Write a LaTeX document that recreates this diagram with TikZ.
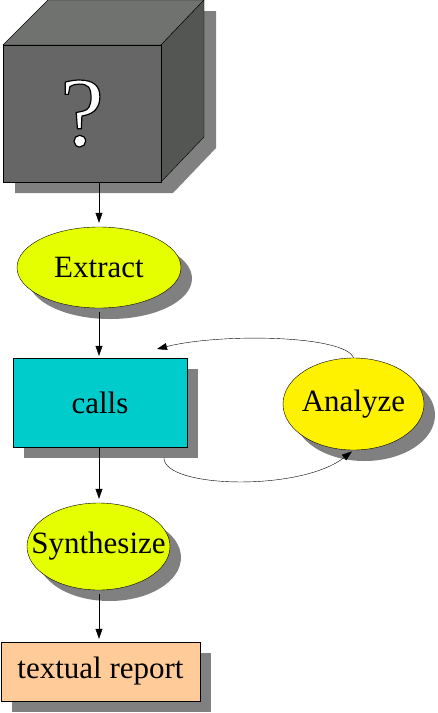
\documentclass[tikz,border=0pt]{standalone}
\usepackage{fontspec}
\setmainfont{Liberation Serif}
\usetikzlibrary{shapes.geometric,arrows.meta,shadows}
\definecolor{cubefront}{HTML}{666666}
\definecolor{cubetop}{HTML}{707270}
\definecolor{cubeside}{HTML}{545654}
\definecolor{shadowgray}{HTML}{808080}
\definecolor{stepfill}{HTML}{E5FF00}
\definecolor{callsfill}{HTML}{00CCCC}
\definecolor{reportfill}{HTML}{FFCC99}
% white glyph with a black outline
\newcommand{\outlined}[1]{\textcolor{white}{\special{pdf:literal direct 0 G 1.2 w 2 Tr}#1\special{pdf:literal direct 0 Tr}}}
\tikzset{
  shadowed/.style={drop shadow={shadow xshift=11pt,shadow yshift=-11pt,fill=shadowgray,opacity=1}},
  stepnode/.style={ellipse,draw,thin,fill=stepfill,inner xsep=-30pt,inner ysep=0pt,shadowed,font=\fontsize{31}{36}\selectfont},
  boxnode/.style={rectangle,draw,thin,inner sep=0pt,shadowed,font=\fontsize{31}{36}\selectfont},
  arr/.style={-{Triangle[length=10pt,width=7pt]},thin}
}

\begin{document}
\begin{tikzpicture}[x=1pt,y=-1pt]
\useasboundingbox (0,0) rectangle (437,713);
% the black box
\fill[shadowgray] (15,56) -- (60,11) -- (216,11) -- (216,148) -- (173,193) -- (15,193) -- cycle;
\draw[thin,fill=cubetop] (3,45) -- (48,0) -- (204,0) -- (161,45) -- cycle;
\draw[thin,fill=cubeside] (161,45) -- (204,0) -- (204,137) -- (161,182) -- cycle;
\node[draw,thin,fill=cubefront,minimum width=158pt,minimum height=137pt,inner sep=0pt,
  font=\fontsize{99}{99}\selectfont] (cube) at (82,113.5) {\outlined{?}};
% steps
\node[stepnode,minimum width=164pt,minimum height=81pt] (extract) at (99,267.5) {Extract};
\node[boxnode,fill=callsfill,minimum width=174pt,minimum height=89pt] (calls) at (100,402.5) {calls};
\node[stepnode,fill=yellow,minimum width=141pt,minimum height=92pt] (analyze) at (353.5,404) {Analyze};
\node[stepnode,minimum width=143pt,minimum height=87pt] (synth) at (98.5,546.5) {Synthesize};
\node[boxnode,fill=reportfill,minimum width=199pt,minimum height=59pt] (report) at (100.5,671.5) {textual report};
% arrows
\draw[arr,shorten >=4pt] (cube.south -| extract.north) -- (extract.north);
\draw[arr,shorten <=4pt,shorten >=2pt] (extract.south) -- (calls.north -| extract.south);
\draw[arr,shorten >=4pt] (calls.south -| extract.south) -- (synth.north -| extract.south);
\draw[arr,shorten <=4pt,shorten >=3pt] (synth.south -| extract.south) -- (report.north -| extract.south);
% loop through Analyze
\coordinate (loopin) at (157,349);
\coordinate (loopout) at (164,458);
\draw[arr] (analyze.north) .. controls (345,335) and (220,333) .. (loopin);
\draw[arr,shorten >=2pt] (loopout) .. controls (164,488) and (300,492) .. (analyze.south);
\end{tikzpicture}
\end{document}
